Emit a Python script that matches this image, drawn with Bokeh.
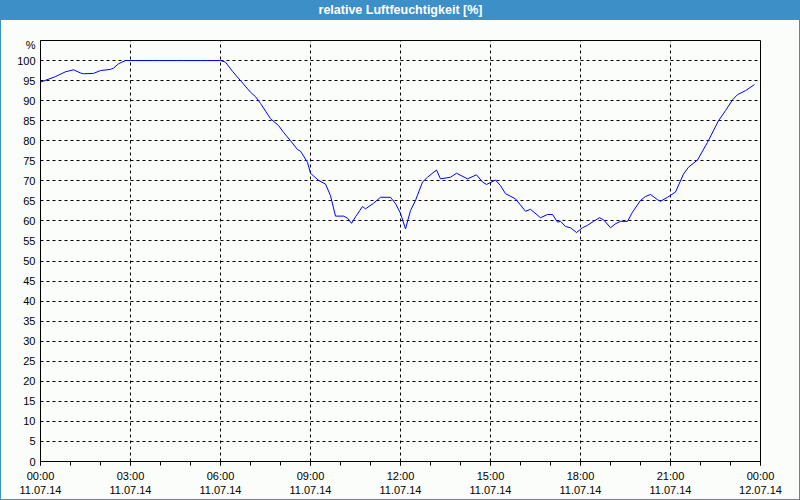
from bokeh.plotting import figure
from bokeh.models import FixedTicker, Range1d, Title
from bokeh.embed import file_html
from bokeh.resources import INLINE

# ---- data ----
title_text = "relative Luftfeuchtigkeit [%]"
times = ["00:00", "00:30", "00:50", "01:06", "01:20", "01:26", "01:46", "02:00", "02:20", "02:26",
         "02:36", "02:50", "06:00", "06:10", "06:24", "06:40", "07:00", "07:10", "07:20", "07:40",
         "07:56", "08:06", "08:20", "08:34", "08:40", "08:54", "09:00", "09:16", "09:30", "09:40",
         "09:50", "10:06", "10:14", "10:22", "10:30", "10:44", "10:50", "11:06", "11:20", "11:40",
         "11:50", "12:00", "12:10", "12:20", "12:30", "12:44", "12:54", "13:12", "13:20", "13:40",
         "13:52", "14:14", "14:32", "14:44", "14:52", "15:10", "15:20", "15:30", "15:50", "16:10",
         "16:20", "16:40", "16:54", "17:04", "17:14", "17:20", "17:30", "17:40", "17:52", "18:04",
         "18:14", "18:26", "18:38", "18:46", "19:00", "19:10", "19:20", "19:34", "19:44", "20:00",
         "20:10", "20:20", "20:34", "20:40", "20:54", "21:10", "21:26", "21:36", "21:54", "22:14",
         "22:36", "22:50", "23:04", "23:14", "23:30", "23:48"]
rh = [94.6, 96.0, 97.2, 97.7, 96.9, 96.7, 96.8, 97.5, 97.8, 98.1,
      99.2, 100.0, 100.0, 99.6, 97.3, 95.0, 92.1, 91.0, 89.3, 85.5,
      83.8, 82.1, 80.0, 77.8, 77.4, 74.6, 71.9, 70.1, 69.2, 66.3,
      61.2, 61.2, 60.7, 59.4, 61.0, 63.6, 63.0, 64.4, 65.9, 65.9,
      64.3, 61.9, 58.0, 62.6, 65.1, 69.7, 70.9, 72.7, 70.5, 70.9,
      71.9, 70.5, 71.5, 69.7, 69.1, 70.2, 68.8, 66.8, 65.5, 62.4,
      62.9, 60.8, 61.6, 61.6, 59.7, 59.9, 58.6, 58.3, 57.1, 58.3,
      58.9, 59.9, 60.8, 60.3, 58.3, 59.3, 59.9, 59.9, 62.2, 65.1,
      66.1, 66.6, 65.3, 64.9, 65.9, 67.2, 71.7, 73.4, 75.2, 79.6,
      85.0, 87.5, 90.2, 91.5, 92.5, 94.0]
x_tick_hours = [0, 3, 6, 9, 12, 15, 18, 21, 24]
x_tick_labels = ["00:00\n11.07.14", "03:00\n11.07.14", "06:00\n11.07.14", "09:00\n11.07.14",
                 "12:00\n11.07.14", "15:00\n11.07.14", "18:00\n11.07.14", "21:00\n11.07.14",
                 "00:00\n12.07.14"]
y_ticks = list(range(0, 101, 5))
y_unit_label = "%"

hours = [int(t[:2]) + int(t[3:]) / 60 for t in times]

BLUE = "#3d8fc7"
BG = "#fbfdfb"
FONT = "Liberation Sans"

p = figure(width=800, height=500, output_backend="svg", toolbar_location=None,
           x_range=Range1d(0, 24), y_range=Range1d(0, 105),
           min_border_left=40, min_border_right=40, min_border_top=40, min_border_bottom=39,
           title=title_text)
p.background_fill_color = BG
p.border_fill_color = None
p.outline_line_color = "black"
p.outline_line_width = 1
p.styles = {
    "background": f"linear-gradient(to bottom, {BLUE} 0px, {BLUE} 20px, {BG} 20px, {BG} 100%)",
    "box-shadow": f"inset 0 0 0 1px {BLUE}",
}

# title text in the blue bar (an invisible spacer title keeps it away from the frame)
p.title.align = "center"
p.title.vertical_align = "bottom"
p.title.offset = 17
p.title.text_color = "white"
p.title.text_font = FONT
p.title.text_font_style = "bold"
p.title.text_font_size = "12.5px"
p.title.standoff = 0
p.add_layout(Title(text=" ", text_font_size="1px", standoff=21), "above")

p.line(hours, rh, line_color="#0000ff", line_width=1)

# x axis
xa = p.xaxis[0]
xa.ticker = FixedTicker(ticks=x_tick_hours, minor_ticks=list(range(25)))
xa.major_label_overrides = {h: l for h, l in zip(x_tick_hours, x_tick_labels)}
xa.major_tick_in = 0
xa.major_tick_out = 4
xa.minor_tick_in = 0
xa.minor_tick_out = 4
xa.major_label_standoff = 4
xa.axis_line_color = "black"
xa.major_tick_line_color = "black"
xa.minor_tick_line_color = "black"
xa.major_label_text_font = FONT
xa.major_label_text_font_size = "11px"
xa.major_label_text_color = "black"

# y axis
ya = p.yaxis[0]
ya.ticker = FixedTicker(ticks=y_ticks + [104])
ya.major_label_overrides = {104: y_unit_label}
ya.major_tick_in = 0
ya.major_tick_out = 0
ya.minor_tick_line_color = None
ya.major_label_standoff = 5
ya.axis_line_color = "black"
ya.major_label_text_font = FONT
ya.major_label_text_font_size = "11px"
ya.major_label_text_color = "black"

# grids
p.xgrid.ticker = FixedTicker(ticks=x_tick_hours[1:-1])
p.ygrid.ticker = FixedTicker(ticks=y_ticks[1:])
for g in (p.xgrid[0], p.ygrid[0]):
    g.grid_line_color = "black"
    g.grid_line_dash = "3 3"
    g.grid_line_width = 1

open("out.html", "w").write(file_html(p, INLINE))
